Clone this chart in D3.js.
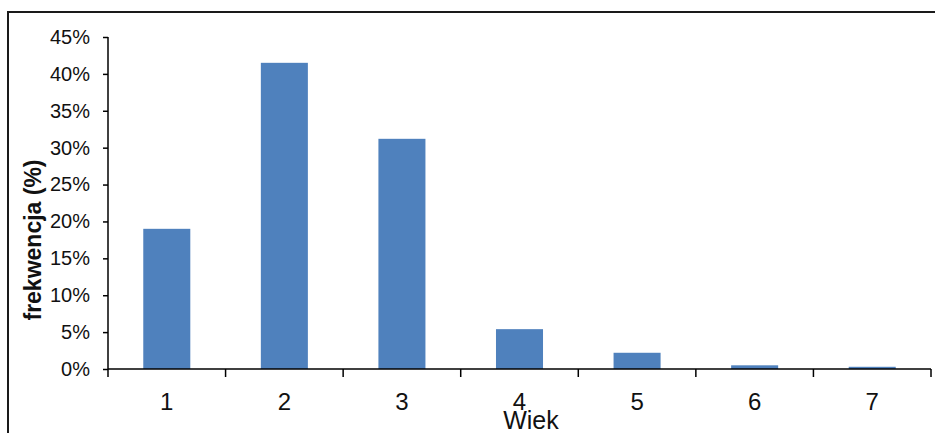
<!DOCTYPE html>
<html>
<head>
<meta charset="utf-8">
<script src="https://cdn.jsdelivr.net/npm/d3@7"></script>
<style>
  html, body { margin: 0; padding: 0; background: #fff; }
  svg { display: block; font-family: "Liberation Sans", Arial, sans-serif; }
</style>
</head>
<body>
<svg id="chart" width="935" height="433"></svg>
<script>
// Age groups and their share of the sample (%)
const categories = ["1", "2", "3", "4", "5", "6", "7"];
const values = [19.0, 41.5, 31.2, 5.4, 2.2, 0.5, 0.3];
const yTicks = [0, 5, 10, 15, 20, 25, 30, 35, 40, 45];
const yTickLabels = yTicks.map(d => d + "%");
const xTitle = "Wiek";
const yTitle = "frekwencja (%)";

const svg = d3.select("#chart");
const plot = { left: 108, right: 931, top: 37, bottom: 369 };

// Outer frame (top and left edges)
svg.append("path")
  .attr("d", "M8,433 L8,12 L935,12")
  .attr("fill", "none")
  .attr("stroke", "#1a1a1a")
  .attr("stroke-width", 2);

const x = d3.scaleBand()
  .domain(categories)
  .range([plot.left, plot.right])
  .paddingInner(0.6)
  .paddingOuter(0.3);

const xCat = d3.scaleBand()
  .domain(categories)
  .range([plot.left, plot.right]);

const y = d3.scaleLinear()
  .domain([0, 45])
  .range([plot.bottom, plot.top]);

// Bars
svg.append("g")
  .selectAll("rect")
  .data(values)
  .join("rect")
  .attr("x", (d, i) => x(categories[i]))
  .attr("width", x.bandwidth())
  .attr("y", d => y(d))
  .attr("height", d => y(0) - y(d))
  .attr("fill", "#4F81BD");

// Y axis
const yAxis = d3.axisLeft(y)
  .tickValues(yTicks)
  .tickFormat((d, i) => yTickLabels[i])
  .tickSize(5)
  .tickPadding(13);

const gy = svg.append("g")
  .attr("transform", `translate(${plot.left},0)`)
  .call(yAxis);
gy.select(".domain").attr("stroke", "#000").attr("stroke-width", 1.5)
  .attr("d", `M0,${plot.top}V${plot.bottom}`);
gy.selectAll(".tick line").attr("stroke", "#000").attr("stroke-width", 1.5);
gy.selectAll(".tick text")
  .attr("font-size", 20)
  .attr("fill", "#111")
  .attr("font-family", "Liberation Sans, Arial, sans-serif");

// X axis: ticks mark category boundaries
const boundaries = categories.map(c => xCat(c)).concat([plot.right]);
const gx = svg.append("g");
gx.append("line")
  .attr("x1", plot.left).attr("x2", plot.right)
  .attr("y1", y(0)).attr("y2", y(0))
  .attr("stroke", "#000").attr("stroke-width", 1.5);
gx.selectAll("line.tick")
  .data(boundaries)
  .join("line")
  .attr("class", "tick")
  .attr("x1", d => d).attr("x2", d => d)
  .attr("y1", y(0)).attr("y2", y(0) + 8)
  .attr("stroke", "#000").attr("stroke-width", 1.5);
gx.selectAll("text")
  .data(categories)
  .join("text")
  .attr("x", d => xCat(d) + xCat.bandwidth() / 2)
  .attr("y", 410)
  .attr("text-anchor", "middle")
  .attr("font-size", 24)
  .attr("fill", "#111")
  .text(d => d);

// Axis titles
svg.append("text")
  .attr("x", 531)
  .attr("y", 429)
  .attr("text-anchor", "middle")
  .attr("font-size", 25)
  .attr("fill", "#111")
  .text(xTitle);

svg.append("text")
  .attr("transform", "translate(41,240) rotate(-90)")
  .attr("text-anchor", "middle")
  .attr("font-size", 23)
  .attr("font-weight", "bold")
  .attr("fill", "#111")
  .text(yTitle);
</script>
</body>
</html>
